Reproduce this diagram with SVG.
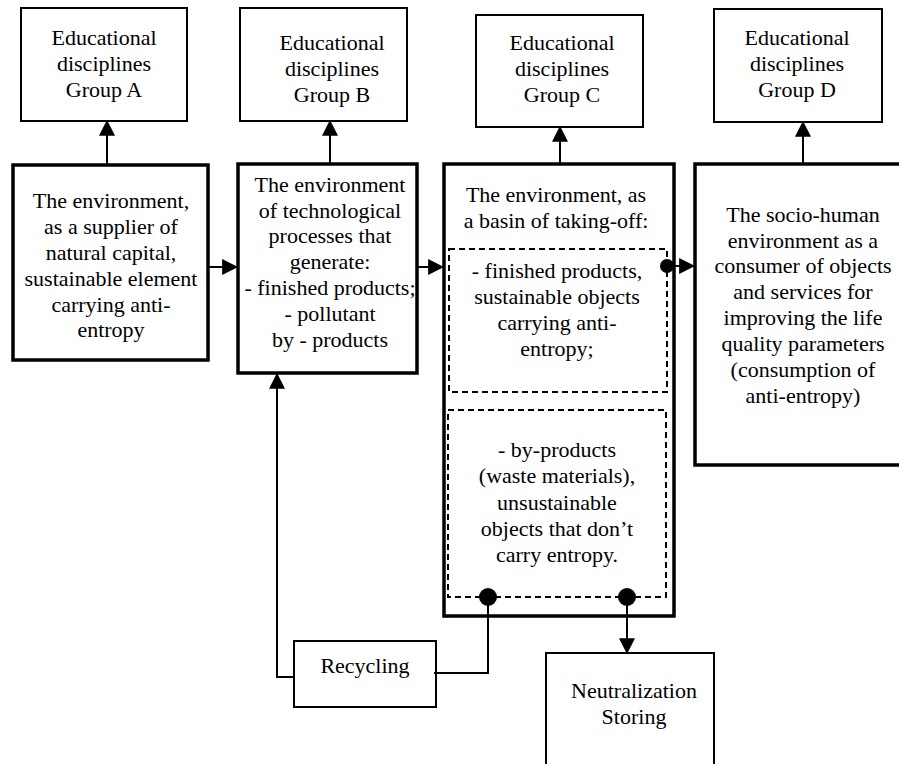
<svg xmlns="http://www.w3.org/2000/svg" width="899" height="764" viewBox="0 0 899 764">
<style>
text{font-size:22px;fill:#000;text-anchor:middle}
.thin{fill:#fff;stroke:#000;stroke-width:2}
.thick{fill:#fff;stroke:#000;stroke-width:3.5}
.dash{fill:none;stroke:#000;stroke-width:2;stroke-dasharray:6,4}
.conn{fill:none;stroke:#000;stroke-width:2}
.dot{fill:#000}
</style>
<defs>
<marker id="arr" markerUnits="userSpaceOnUse" markerWidth="16" markerHeight="16" viewBox="0 0 14 14" refX="13" refY="7" orient="auto">
<path d="M0,0 L14,7 L0,14 Z" fill="#000"/>
</marker>
</defs>
<rect width="899" height="764" fill="#fff"/>
<g font-family="'Liberation Serif', Tinos, 'Times New Roman', 'DejaVu Serif', serif">
<g id="groupA">
<rect class="thin" x="21" y="8" width="166" height="113"/>
<text x="104" y="45">Educational</text>
<text x="104" y="71">disciplines</text>
<text x="104" y="97">Group A</text>
</g>
<g id="groupB">
<rect class="thin" x="240" y="8" width="167" height="113"/>
<text x="332" y="50">Educational</text>
<text x="332" y="76">disciplines</text>
<text x="332" y="102">Group B</text>
</g>
<g id="groupC">
<rect class="thin" x="476" y="15" width="167" height="112"/>
<text x="562" y="50">Educational</text>
<text x="562" y="76">disciplines</text>
<text x="562" y="102">Group C</text>
</g>
<g id="groupD">
<rect class="thin" x="714" y="9" width="168" height="113"/>
<text x="797" y="45">Educational</text>
<text x="797" y="71">disciplines</text>
<text x="797" y="97">Group D</text>
</g>

<g id="supplier">
<rect class="thick" x="13" y="165" width="195" height="195"/>
<text x="111" y="208">The environment,</text>
<text x="111" y="234">as a supplier of</text>
<text x="111" y="260">natural capital,</text>
<text x="111" y="286">sustainable element</text>
<text x="111" y="312">carrying anti-</text>
<text x="111" y="337">entropy</text>
</g>
<g id="processes">
<rect class="thick" x="238" y="164" width="179" height="209"/>
<text x="330" y="192">The environment</text>
<text x="330" y="218">of technological</text>
<text x="330" y="243">processes that</text>
<text x="330" y="269">generate:</text>
<text x="330" y="295">- finished products;</text>
<text x="330" y="321">- pollutant</text>
<text x="330" y="347">by - products</text>
</g>
<g id="basin">
<rect class="thick" x="444" y="164" width="230" height="452"/>
<text x="556" y="202">The environment, as</text>
<text x="556" y="228">a basin of taking-off:</text>
<rect class="dash" x="449" y="249" width="218" height="143"/>
<text x="557" y="278">- finished products,</text>
<text x="557" y="304">sustainable objects</text>
<text x="557" y="330">carrying anti-</text>
<text x="557" y="356">entropy;</text>
<rect class="dash" x="448" y="410" width="218" height="187"/>
<text x="557" y="457">- by-products</text>
<text x="557" y="483">(waste materials),</text>
<text x="557" y="510">unsustainable</text>
<text x="557" y="536">objects that don’t</text>
<text x="557" y="562">carry entropy.</text>
</g>
<g id="consumer">
<rect class="thick" x="695" y="164" width="220" height="301"/>
<text x="803" y="222">The socio-human</text>
<text x="803" y="248">environment as a</text>
<text x="803" y="273">consumer of objects</text>
<text x="803" y="299">and services for</text>
<text x="803" y="325">improving the life</text>
<text x="803" y="351">quality parameters</text>
<text x="803" y="377">(consumption of</text>
<text x="803" y="403">anti-entropy)</text>
</g>
<g id="recycling">
<rect class="thin" x="294" y="641" width="142" height="66"/>
<text x="365" y="673">Recycling</text>
</g>
<g id="neutralization">
<rect class="thin" x="546" y="653" width="168" height="130"/>
<text x="634" y="698">Neutralization</text>
<text x="634" y="724">Storing</text>
</g>
</g>
<g id="connectors">
<line class="conn" x1="107" y1="164" x2="107" y2="121" marker-end="url(#arr)"/>
<line class="conn" x1="330" y1="163" x2="330" y2="121" marker-end="url(#arr)"/>
<line class="conn" x1="560" y1="163" x2="560" y2="127" marker-end="url(#arr)"/>
<line class="conn" x1="803" y1="163" x2="803" y2="122" marker-end="url(#arr)"/>
<line class="conn" x1="209" y1="267" x2="237" y2="267" marker-end="url(#arr)"/>
<line class="conn" x1="418" y1="267" x2="443" y2="267" marker-end="url(#arr)"/>
<line class="conn" x1="667" y1="266" x2="694" y2="266" marker-end="url(#arr)"/>
<polyline class="conn" points="488,597 488,673 434,673"/>
<polyline class="conn" points="294,677 277,677 277,374" marker-end="url(#arr)"/>
<line class="conn" x1="627" y1="597" x2="627" y2="653" marker-end="url(#arr)"/>
<circle class="dot" cx="667" cy="266" r="7"/>
<circle class="dot" cx="488" cy="597" r="9"/>
<circle class="dot" cx="627" cy="597" r="9"/>
</g>
</svg>
